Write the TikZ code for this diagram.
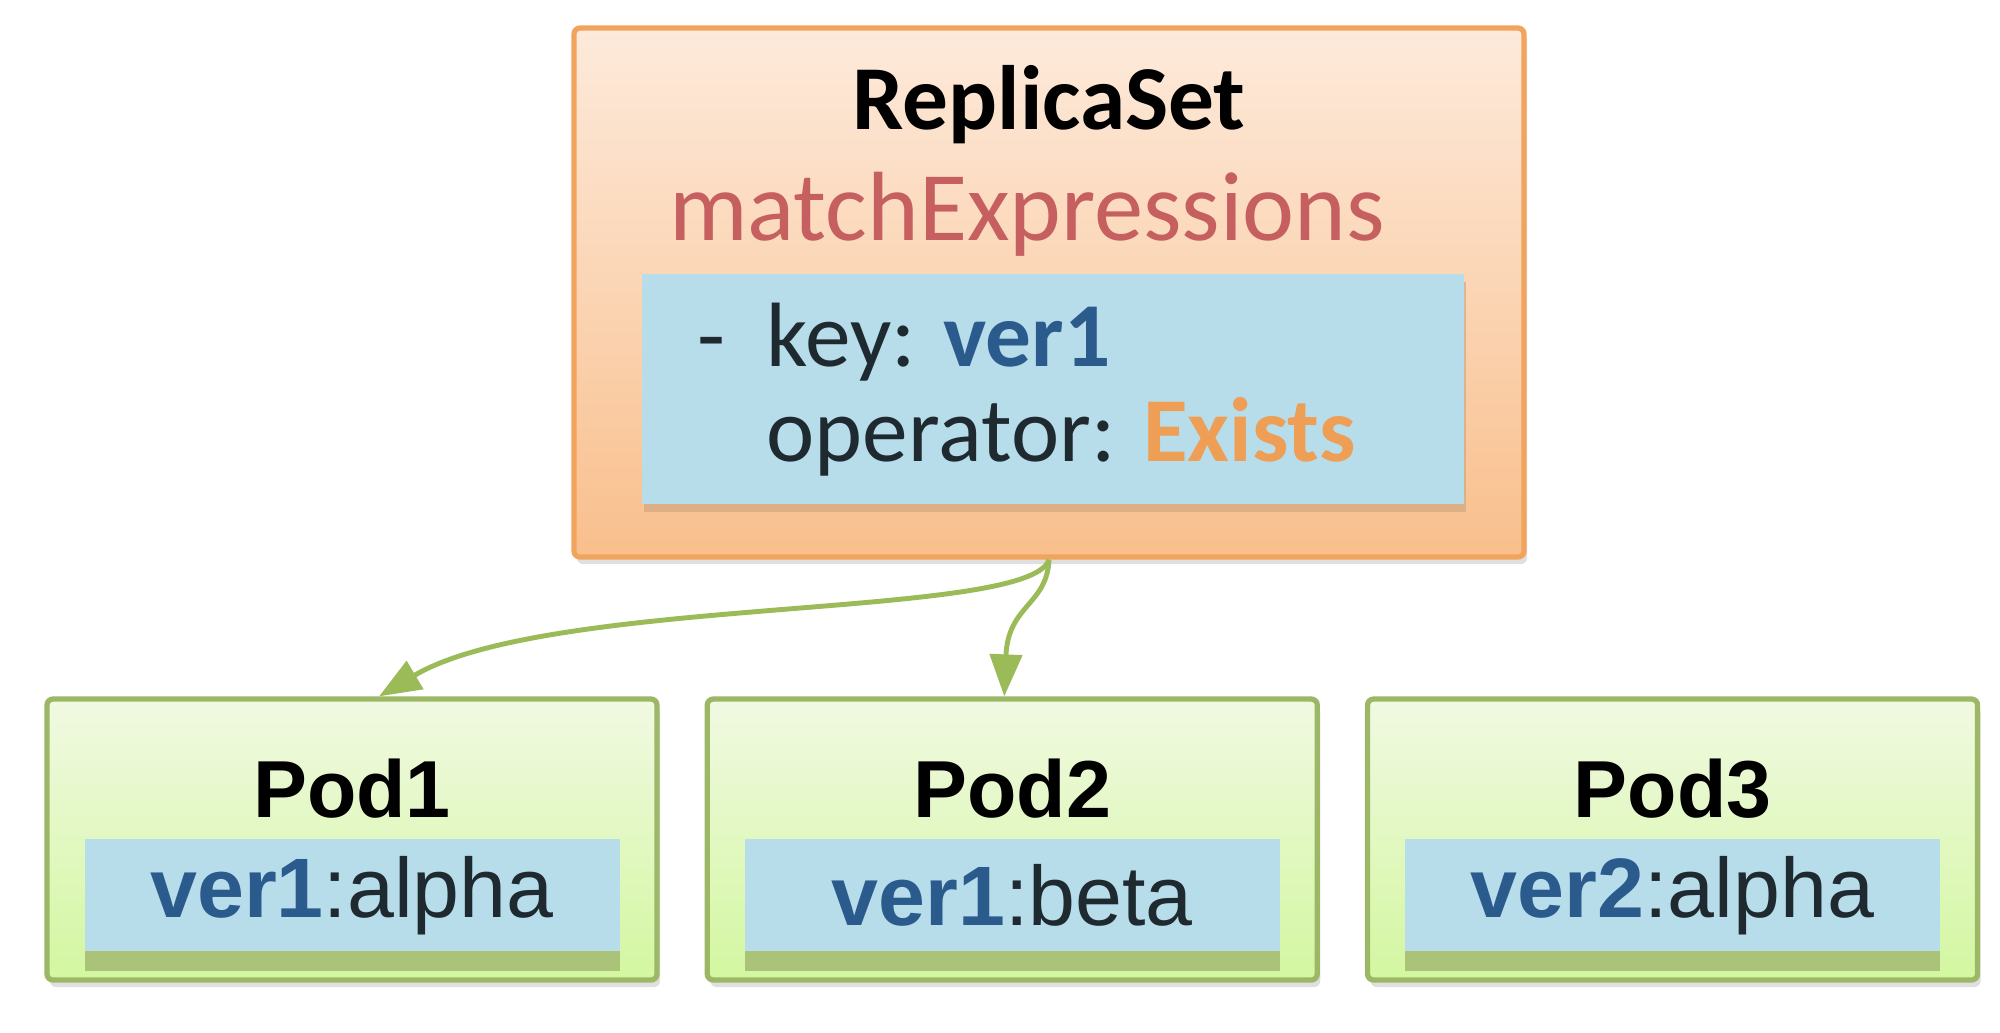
\documentclass[tikz,border=0pt]{standalone}
\usepackage{fontspec}
\setmainfont{Carlito}
\newfontfamily\podfont{Liberation Sans}
\usetikzlibrary{positioning,arrows.meta,shadows}
\definecolor{rstop}{HTML}{FDEADB}
\definecolor{rsbottom}{HTML}{F9BF8C}
\definecolor{rsline}{HTML}{F1A45E}
\definecolor{selfill}{HTML}{B7DCEA}
\definecolor{selshade}{HTML}{C9A27E}
\definecolor{podtop}{HTML}{F1F9E2}
\definecolor{podbottom}{HTML}{D3F7A0}
\definecolor{podline}{HTML}{9CB866}
\definecolor{podshade}{HTML}{A3BB72}
\definecolor{verblue}{HTML}{2B5A8C}
\definecolor{matchred}{HTML}{C65F5F}
\definecolor{existsorange}{HTML}{EE9E55}
\definecolor{textdark}{HTML}{1F2A30}
\definecolor{linkgreen}{HTML}{9BBB59}
\tikzset{
  rsbox/.style={draw=rsline, line width=1.5pt, rounded corners=0.06cm, top color=rstop, bottom color=rsbottom,
    minimum width=9.5cm, minimum height=5.29cm,
    drop shadow={shadow xshift=0.03cm, shadow yshift=-0.07cm, opacity=0.25}},
  selbox/.style={fill=selfill, minimum width=8.22cm, minimum height=2.3cm,
    drop shadow={shadow xshift=0.02cm, shadow yshift=-0.08cm, fill=selshade, opacity=0.6}},
  podbox/.style={draw=podline, line width=1.5pt, rounded corners=0.06cm, top color=podtop, bottom color=podbottom,
    minimum width=6.1cm, minimum height=2.81cm,
    drop shadow={shadow xshift=0.03cm, shadow yshift=-0.07cm, opacity=0.25}},
  podlabel/.style={fill=selfill, minimum width=5.35cm, minimum height=1.12cm, inner sep=0pt,
    font=\podfont\fontsize{24}{26}\selectfont, text=textdark,
    drop shadow={shadow xshift=0cm, shadow yshift=-0.2cm, fill=podshade, opacity=0.85}},
  podtitle/.style={font=\podfont\bfseries\fontsize{23}{26}\selectfont, text=black, inner sep=0pt},
  link/.style={draw=linkgreen, line width=1.4pt, -{Triangle[width=0.32cm,length=0.42cm]}}
}
\begin{document}
\begin{tikzpicture}
\useasboundingbox (0,0) rectangle (20,-10.32);
\node[rsbox] at (10.49,-2.925) (rs) {};
\node[font=\bfseries\fontsize{26}{28}\selectfont, inner sep=0pt] at (10.49,-1.05) (rsname) {ReplicaSet};
\node[font=\fontsize{28}{30}\selectfont, text=matchred, inner sep=0pt] at (10.27,-2.14) (rsmatch) {matchExpressions};
\node[selbox] at (10.53,-3.89) (rssel) {};
\node[anchor=west, align=left, inner sep=0pt, text=textdark, font=\fontsize{26}{27}\selectfont] at (7.66,-3.9) (rskeys)
  {\llap{-\hspace{0.45em}}key: \textcolor{verblue}{\bfseries ver1}\\operator: \textcolor{existsorange}{\bfseries Exists}};
\node[podbox] at (3.52,-8.395) (pod1) {};
\node[podbox, right=0.45cm of pod1] (pod2) {};
\node[podbox, right=0.45cm of pod2] (pod3) {};
\node[podtitle] at ([yshift=-0.92cm]pod1.north) (pod1name) {Pod1};
\node[podtitle] at ([yshift=-0.92cm]pod2.north) (pod2name) {Pod2};
\node[podtitle] at ([yshift=-0.92cm]pod3.north) (pod3name) {Pod3};
\node[podlabel] at ([yshift=-1.99cm]pod1.north) (pod1lab) {\textcolor{verblue}{\bfseries ver1}:alpha};
\node[podlabel] at ([yshift=-1.99cm]pod2.north) (pod2lab) {\textcolor{verblue}{\bfseries ver1}:beta};
\node[podlabel] at ([yshift=-1.99cm]pod3.north) (pod3lab) {\textcolor{verblue}{\bfseries ver2}:alpha};
\draw[link] (rs.south) .. controls (10.3,-6.2) and (5.5,-5.95) .. ([xshift=0.27cm]pod1.north);
\draw[link] (rs.south) .. controls (10.47,-6.05) and (10.08,-6.05) .. ([xshift=-0.08cm]pod2.north);
\end{tikzpicture}
\end{document}
